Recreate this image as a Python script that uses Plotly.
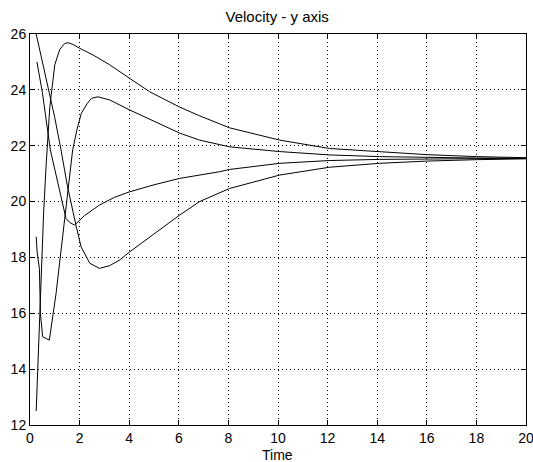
import plotly.graph_objects as go

# agent 1: starts low, overshoots to ~25.7
t1 = [0.25, 0.28, 0.33, 0.37, 0.41, 0.44, 0.55, 0.65, 0.8, 1.0, 1.2, 1.4, 1.53, 1.75, 2.0, 2.54, 3.21,
      4.02, 4.83, 6.04, 6.84, 8.05, 10.07, 12.08, 14.1, 16.0, 18.0, 20.0]
v1 = [12.5, 13.25, 14.0, 14.8, 16.0, 17.2, 19.6, 21.3, 23.4, 24.9, 25.45, 25.66, 25.69, 25.62, 25.49, 25.25, 24.9,
      24.41, 23.93, 23.38, 23.07, 22.64, 22.2, 21.9, 21.78, 21.68, 21.61, 21.57]

# agent 2: dips to 15 then peaks ~23.75
t2 = [0.25, 0.29, 0.38, 0.42, 0.51, 0.78, 1.05, 1.4, 1.72, 1.9, 2.07, 2.3, 2.48, 2.74, 3.21, 4.02, 5.23,
      6.04, 6.84, 8.05, 10.07, 12.08, 14.1, 16.0, 18.0, 20.0]
v2 = [18.74, 18.16, 17.6, 16.0, 15.16, 15.04, 16.7, 19.5, 21.85, 22.6, 23.16, 23.5, 23.7, 23.75, 23.64, 23.28, 22.8,
      22.45, 22.2, 21.96, 21.79, 21.67, 21.61, 21.58, 21.56, 21.55]

# agent 3: starts at 25, minimum ~19.1
t3 = [0.28, 0.5, 0.82, 1.2, 1.45, 1.6, 1.8, 2.2, 2.81, 3.4, 4.02, 5.0, 6.04, 7.65, 8.05, 10.07, 12.08,
      14.1, 16.0, 18.0, 20.0]
v3 = [25.0, 23.9, 21.85, 20.3, 19.4, 19.25, 19.16, 19.5, 19.88, 20.15, 20.35, 20.6, 20.83, 21.07, 21.15, 21.37, 21.47,
      21.51, 21.53, 21.54, 21.55]

# agent 4: starts at 26, minimum ~17.6
t4 = [0.25, 0.5, 0.77, 1.0, 1.25, 1.5, 1.85, 2.06, 2.41, 2.8, 3.2, 3.62, 4.02, 5.1, 6.04, 6.84, 7.65,
      8.05, 10.07, 12.08, 14.1, 16.0, 18.0, 20.0]
v4 = [26.0, 25.0, 24.0, 23.0, 21.85, 20.6, 19.16, 18.38, 17.79, 17.61, 17.7, 17.91, 18.2, 18.92, 19.52, 20.0, 20.3,
      20.47, 20.95, 21.23, 21.37, 21.45, 21.5, 21.53]

x_ticks = [0, 2, 4, 6, 8, 10, 12, 14, 16, 18, 20]
y_ticks = [12, 14, 16, 18, 20, 22, 24, 26]

fig = go.Figure()
for t, v in [(t1, v1), (t2, v2), (t3, v3), (t4, v4)]:
    fig.add_trace(go.Scatter(x=t, y=v, mode='lines', line=dict(color='black', width=1),
                             showlegend=False, hoverinfo='skip'))

axis_style = dict(
    showline=True, linecolor='black', linewidth=1, mirror='allticks',
    ticks='inside', ticklen=5, tickcolor='black',
    showgrid=True, gridcolor='black', gridwidth=1, griddash='1px,3px',
    zeroline=False, automargin=False,
    tickfont=dict(size=14), ticklabeloverflow='allow',
)

fig.update_xaxes(range=[0, 20], tickvals=x_ticks, **axis_style)
fig.update_yaxes(range=[12, 26], tickvals=y_ticks, **axis_style)

fig.add_annotation(text='Time', xref='paper', yref='paper', x=0.499, y=-0.076,
                   xanchor='center', yanchor='middle', showarrow=False, font=dict(size=14))

fig.update_layout(
    width=533, height=462,
    margin=dict(l=30, r=7, t=34, b=37),
    paper_bgcolor='white', plot_bgcolor='white',
    font=dict(family='Arial, Liberation Sans, sans-serif', size=14, color='black'),
    title=dict(text='Velocity - y axis', x=0.52, xanchor='center', y=0.963, yanchor='middle',
               font=dict(size=15)),
)

# page has a default body margin; drop it so the figure sits at the window corner
fig.write_html("out.html", config={'displayModeBar': False},
               post_script="document.body.style.margin='0';document.body.style.overflow='hidden';")
